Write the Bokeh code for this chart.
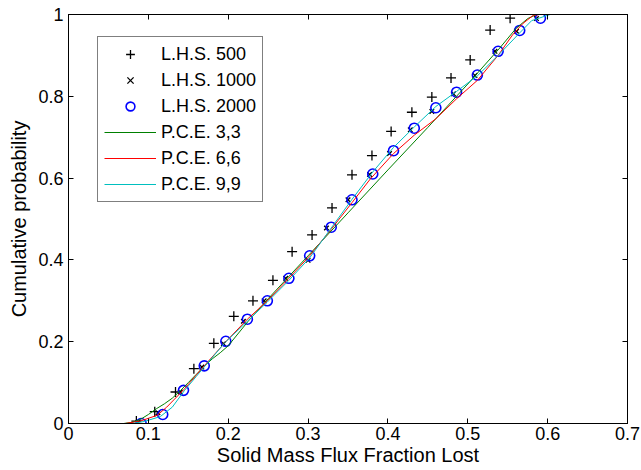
from bokeh.plotting import figure
from bokeh.models import Range1d, LinearAxis, FixedTicker, Legend, LegendItem
from bokeh.embed import file_html
from bokeh.resources import INLINE

# ---- data ----
lhs500_x = [0.085, 0.108, 0.134, 0.157, 0.182, 0.207, 0.231, 0.256, 0.280, 0.305,
            0.330, 0.355, 0.380, 0.404, 0.430, 0.455, 0.479, 0.503, 0.528, 0.553]
lhs500_y = [0.006, 0.029, 0.077, 0.134, 0.196, 0.262, 0.300, 0.350, 0.420, 0.461,
            0.527, 0.608, 0.655, 0.714, 0.761, 0.798, 0.845, 0.889, 0.962, 0.991]

lhs1000_x = [0.087, 0.112, 0.140, 0.167, 0.194, 0.219, 0.245, 0.272, 0.300, 0.323,
             0.350, 0.377, 0.402, 0.428, 0.455, 0.482, 0.509, 0.534, 0.561, 0.586]
lhs1000_y = [0.003, 0.026, 0.077, 0.138, 0.195, 0.250, 0.300, 0.355, 0.399, 0.478,
             0.547, 0.609, 0.660, 0.718, 0.763, 0.806, 0.851, 0.910, 0.959, 0.990]

lhs2000_x = [0.091, 0.118, 0.144, 0.170, 0.197, 0.224, 0.249, 0.276, 0.302, 0.329,
             0.355, 0.381, 0.407, 0.433, 0.460, 0.486, 0.512, 0.538, 0.565, 0.591]
lhs2000_y = [0.000, 0.022, 0.081, 0.141, 0.201, 0.255, 0.300, 0.355, 0.410, 0.480,
             0.547, 0.610, 0.667, 0.722, 0.772, 0.810, 0.852, 0.910, 0.961, 0.991]

pce33_x = [0.069, 0.080, 0.090, 0.100, 0.110, 0.120, 0.130, 0.140, 0.150, 0.160,
           0.170, 0.180, 0.190, 0.200, 0.225, 0.250, 0.300, 0.350, 0.400, 0.450,
           0.500, 0.540, 0.560, 0.575, 0.586, 0.590]
pce33_y = [0.000, 0.003, 0.010, 0.022, 0.036, 0.048, 0.062, 0.080, 0.100, 0.120,
           0.140, 0.158, 0.173, 0.190, 0.250, 0.305, 0.410, 0.515, 0.620, 0.724,
           0.830, 0.918, 0.965, 0.990, 1.000, 1.000]

pce66_x = [0.071, 0.090, 0.111, 0.123, 0.144, 0.170, 0.197, 0.224, 0.249, 0.276,
           0.302, 0.329, 0.355, 0.378, 0.407, 0.433, 0.460, 0.486, 0.512, 0.538,
           0.556, 0.569, 0.582, 0.590]
pce66_y = [0.000, 0.006, 0.020, 0.040, 0.082, 0.141, 0.200, 0.255, 0.300, 0.355,
           0.410, 0.475, 0.540, 0.598, 0.660, 0.705, 0.745, 0.794, 0.839, 0.900,
           0.950, 0.978, 0.998, 1.000]

pce99_x = [0.080, 0.095, 0.115, 0.130, 0.145, 0.160, 0.175, 0.197, 0.224, 0.249,
           0.276, 0.302, 0.329, 0.355, 0.381, 0.407, 0.433, 0.460, 0.486, 0.512,
           0.538, 0.565, 0.580, 0.603]
pce99_y = [0.000, 0.005, 0.017, 0.040, 0.080, 0.115, 0.150, 0.200, 0.250, 0.297,
           0.350, 0.405, 0.478, 0.548, 0.615, 0.675, 0.725, 0.775, 0.812, 0.850,
           0.900, 0.955, 0.985, 1.000]

x_ticks = [0, 0.1, 0.2, 0.3, 0.4, 0.5, 0.6, 0.7]
x_tick_labels = ["0", "0.1", "0.2", "0.3", "0.4", "0.5", "0.6", "0.7"]
y_ticks = [0, 0.2, 0.4, 0.6, 0.8, 1.0]
y_tick_labels = ["0", "0.2", "0.4", "0.6", "0.8", "1"]

legend_labels = ["L.H.S. 500", "L.H.S. 1000", "L.H.S. 2000",
                 "P.C.E. 3,3", "P.C.E. 6,6", "P.C.E. 9,9"]

FONT = "Liberation Sans"
FS = "18px"
LFS = "20px"

p = figure(width=641, height=470, output_backend="svg", toolbar_location=None,
           x_range=Range1d(0, 0.7), y_range=Range1d(0, 1),
           min_border_left=68, min_border_right=14, min_border_top=14, min_border_bottom=47)
p.grid.visible = False
p.outline_line_color = "black"
p.outline_line_width = 1
p.background_fill_color = "white"
p.border_fill_color = "white"

r1 = p.scatter(lhs500_x, lhs500_y, marker="cross", size=10, line_color="black", line_width=1.3)
r2 = p.scatter(lhs1000_x, lhs1000_y, marker="x", size=6.5, line_color="black", line_width=1.3)
r3 = p.scatter(lhs2000_x, lhs2000_y, marker="circle", size=10, line_color="blue",
               fill_color=None, line_width=1.6)
r4 = p.line(pce33_x, pce33_y, line_color="#008000", line_width=1)
r5 = p.line(pce66_x, pce66_y, line_color="#ff0000", line_width=1)
r6 = p.line(pce99_x, pce99_y, line_color="#00bfbf", line_width=1)


def style_axis(ax, ticks, show_labels):
    ax.ticker = FixedTicker(ticks=ticks)
    ax.axis_line_color = "black"
    ax.major_tick_line_color = "black"
    ax.major_tick_in = 5
    ax.major_tick_out = 0
    ax.minor_tick_line_color = None
    ax.major_label_text_font = FONT
    if show_labels:
        ax.major_label_text_font_size = FS
        ax.major_label_text_color = "black"
    else:
        ax.major_label_text_color = None
        ax.major_label_text_font_size = "1px"
        ax.major_label_standoff = 0


xa = p.xaxis[0]
ya = p.yaxis[0]
style_axis(xa, x_ticks, True)
style_axis(ya, y_ticks, True)
xa.major_label_overrides = dict(zip(x_ticks, x_tick_labels))
ya.major_label_overrides = dict(zip(y_ticks, y_tick_labels))
xa.major_label_standoff = 3
ya.major_label_standoff = 5

xa.axis_label = "Solid Mass Flux Fraction Lost"
ya.axis_label = "Cumulative probability"
for ax in (xa, ya):
    ax.axis_label_text_font = FONT
    ax.axis_label_text_font_size = LFS
    ax.axis_label_text_font_style = "normal"
    ax.axis_label_text_color = "black"
xa.axis_label_standoff = 1
ya.axis_label_standoff = 5

top = LinearAxis()
right = LinearAxis()
p.add_layout(top, "above")
p.add_layout(right, "right")
style_axis(top, x_ticks, False)
style_axis(right, y_ticks, False)

items = [LegendItem(label=l, renderers=[r]) for l, r in
         zip(legend_labels, [r1, r2, r3, r4, r5, r6])]
legend = Legend(items=items, location=(29, 221), margin=0, padding=6, spacing=4,
                glyph_width=52, glyph_height=22, label_height=22, label_standoff=5,
                label_text_font=FONT, label_text_font_size=FS, label_text_color="black",
                border_line_color="black", border_line_width=1,
                background_fill_color="white", background_fill_alpha=1)
p.add_layout(legend, "center")

open("out.html", "w").write(file_html(p, INLINE))
